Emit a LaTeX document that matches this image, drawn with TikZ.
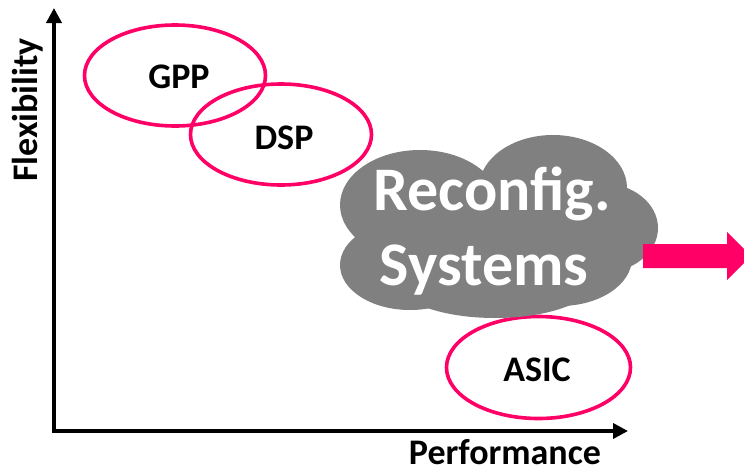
\documentclass[tikz,border=0pt]{standalone}
\usepackage{fontspec}
\setmainfont{Carlito}
\usetikzlibrary{shapes.geometric,arrows.meta}
\definecolor{hotpink}{HTML}{FF0066}
\definecolor{cloudgray}{HTML}{808080}
\tikzset{
  ring/.style={ellipse, draw=hotpink, line width=3.6pt, inner sep=0pt,
               minimum width=181pt, minimum height=101pt},
  lbl/.style={font=\fontsize{36}{36}\selectfont\bfseries, inner sep=0pt},
  axis/.style={line width=3.6pt, {Triangle[length=15pt,width=15pt]}-{Triangle[length=15pt,width=15pt]}},
  cloudtext/.style={font=\fontsize{62}{62}\selectfont\bfseries, text=white, inner sep=0pt, anchor=base},
}
\begin{document}
\begin{tikzpicture}[x=1pt,y=-1pt]
  \useasboundingbox (0,0) rectangle (744,474);

  % axes
  \coordinate (ytip) at (54,8);
  \coordinate (origin) at (54,431);
  \coordinate (xtip) at (628,431);
  \draw[axis, line join=miter] (ytip) -- (origin) -- (xtip);
  \node[lbl, rotate=90] (flex) at (28,110) {Flexibility};
  \node[lbl, anchor=base] (perf) at (505,464) {Performance};

  % processor classes
  \node[ring] (gpp) at (175,75.5) {};
  \node[ring] (dsp) at (281,134.5) {};
  \node[ring, minimum width=184pt, minimum height=102pt] (asic) at (538.5,367.5) {};
  \node[lbl] at (179,76.5) {GPP};
  \node[lbl] at (284,137.5) {DSP};
  \node[lbl] at (537,370) {ASIC};

  % reconfigurable systems cloud
  \begin{scope}[fill=cloudgray]
    \fill (420,205) ellipse [x radius=80, y radius=55];
    \fill (553,188) ellipse [x radius=74, y radius=53];
    \fill (601,228) ellipse [x radius=57, y radius=45];
    \fill (410,265) ellipse [x radius=70, y radius=45];
    \fill (495,280) ellipse [x radius=100, y radius=38];
    \fill (560,258) ellipse [x radius=72, y radius=48];
    \fill (500,238) ellipse [x radius=120, y radius=58];
  \end{scope}
  \node[cloudtext] (rc1) at (492,210) {Reconfig.};
  \node[cloudtext] (rc2) at (484,285) {Systems};

  % outgoing arrow
  \fill[hotpink] (643,244) -- (727,244) -- (727,232) -- (751,256)
    -- (727,280) -- (727,268) -- (643,268) -- cycle;
\end{tikzpicture}
\end{document}
